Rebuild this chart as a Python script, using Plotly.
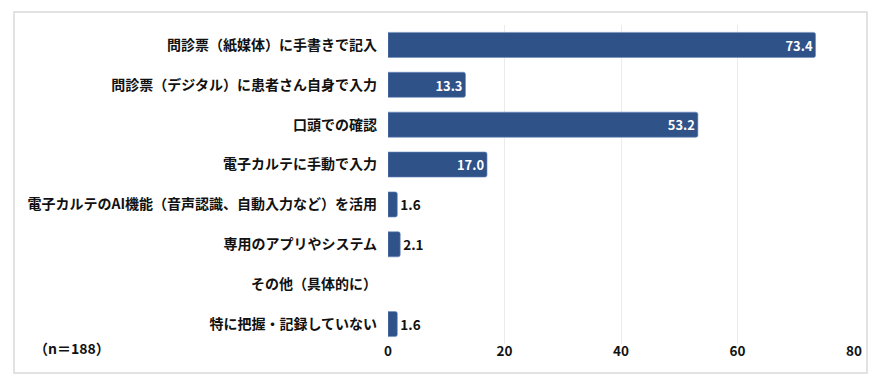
import plotly.graph_objects as go

categories = [
    "問診票（紙媒体）に手書きで記入",
    "問診票（デジタル）に患者さん自身で入力",
    "口頭での確認",
    "電子カルテに手動で入力",
    "電子カルテのAI機能（音声認識、自動入力など）を活用",
    "専用のアプリやシステム",
    "その他（具体的に）",
    "特に把握・記録していない",
]
values = [73.4, 13.3, 53.2, 17.0, 1.6, 2.1, 0.0, 1.6]
x_ticks = [0, 20, 40, 60, 80]
note = "（n＝188）"

FONT = "Noto Sans CJK JP"
BAR = "#2F5289"

texts = ["" if v == 0 else f"{v:.1f}" for v in values]
positions = ["inside" if v > 8 else "outside" for v in values]
bar_x = [v if v > 0 else None for v in values]

fig = go.Figure(go.Bar(
    y=categories, x=bar_x, orientation="h",
    marker=dict(color=BAR, line=dict(color="#6F8DBF", width=0.6), cornerradius=2),
    text=texts, textposition=positions, insidetextanchor="end",
    insidetextfont=dict(color="white", size=13.5, family=FONT, weight="bold"),
    outsidetextfont=dict(color="#111111", size=13.5, family=FONT, weight="bold"),
    cliponaxis=False, width=0.63,
))

fig.update_layout(
    width=879, height=380,
    margin=dict(l=388, r=25, t=25, b=36, autoexpand=False),
    paper_bgcolor="white", plot_bgcolor="white",
    font=dict(family=FONT, size=14, color="#111111", weight="bold"),
    showlegend=False,
    bargap=0.37,
)
fig.update_yaxes(
    categoryorder="array", categoryarray=categories, autorange="reversed",
    showgrid=False, zeroline=False, showline=False, ticks="",
    ticklabelstandoff=10, automargin=False,
    tickfont=dict(family=FONT, size=14, color="#111111", weight="bold"),
)
fig.update_xaxes(
    range=[0, 80], tickvals=x_ticks, showgrid=True, gridcolor="#EBEBEB", gridwidth=1,
    zeroline=False, showline=False, ticks="", automargin=False,
    ticklabelstandoff=-3,
    tickfont=dict(family=FONT, size=13.5, color="#111111", weight="bold"),
)
fig.add_annotation(
    text=note, xref="paper", yref="paper", x=-0.678, y=-0.0125,
    xanchor="center", yanchor="middle", showarrow=False,
    font=dict(family=FONT, size=14, color="#111111", weight="bold"),
)
fig.add_shape(
    type="rect", xref="paper", yref="paper",
    x0=-0.8026, x1=1.0279, y0=-0.0909, y1=1.0408,
    line=dict(color="#D9D9D9", width=1.5), fillcolor="rgba(0,0,0,0)", layer="below",
)
fig.write_html(
    "out.html",
    config={"displayModeBar": False},
    post_script="document.body.style.margin='0';document.body.style.overflow='hidden';",
)
